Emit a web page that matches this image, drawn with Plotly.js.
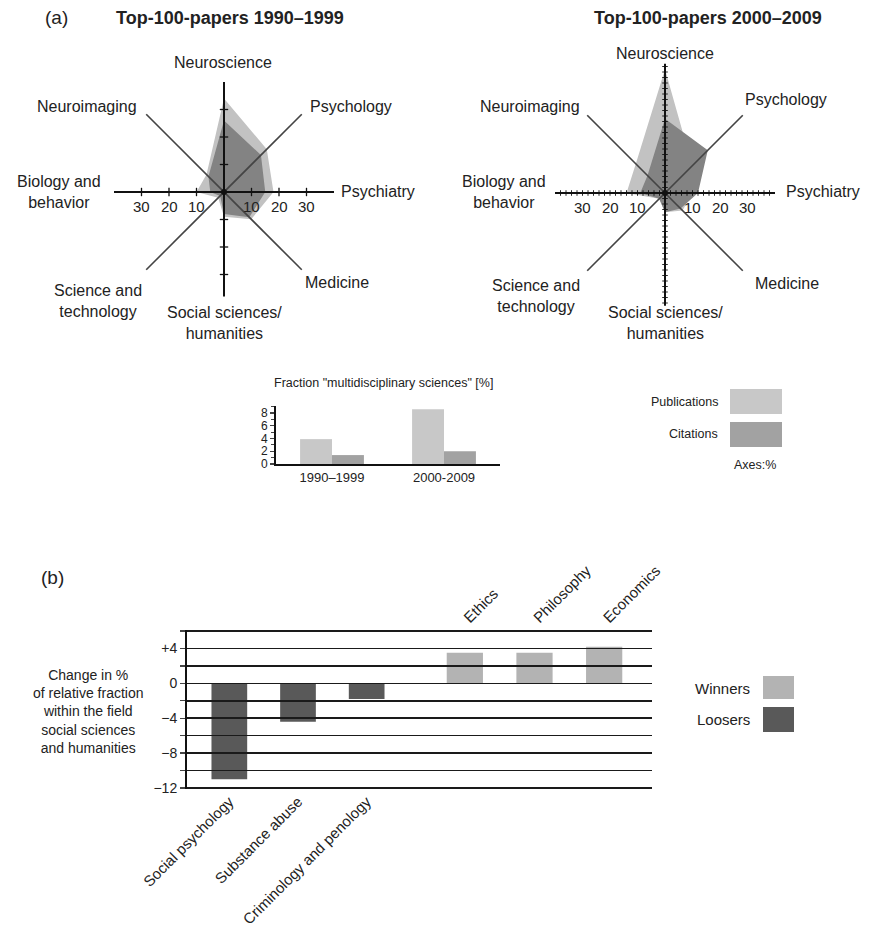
<!DOCTYPE html>
<html><head><meta charset="utf-8">
<script src="https://cdn.plot.ly/plotly-3.0.1.min.js"></script>
<style>body{margin:0;background:#fff}#chart{width:872px;height:940px}</style>
</head><body><div id="chart"></div>
<script>
// ---------- DATA ----------
// Radar axes, clockwise from top
const radarCategories = ["Neuroscience","Psychology","Psychiatry","Medicine","Social sciences/<br>humanities","Science and<br>technology","Biology and<br>behavior","Neuroimaging"];
const radarAngles = [0,45,90,135,180,225,270,315];
const pubs1990 = [34, 22, 18, 14, 9, 3, 10, 9];
const cits1990 = [26, 19, 15, 13, 8, 2, 5, 8];
const pubs2000 = [45, 14, 10, 9, 7, 3, 14, 15];
const cits2000 = [27, 22, 12, 8, 7, 3, 9, 9];
const radarTickVals = [10, 20, 30];
const radarTickText = ["10", "20", "30"];
const spokeLen1990 = [40, 40, 40, 40, 38, 40, 40, 40];
const spokeLen2000 = [47, 40, 40, 40, 41, 40, 40, 40];

// Fraction "multidisciplinary sciences"
const multiPeriods = ["1990–1999", "2000-2009"];
const multiPubs = [3.9, 8.6];
const multiCits = [1.4, 2.0];

// (b) change in relative fraction
const loserFields = ["Social psychology", "Substance abuse", "Criminology and penology"];
const loserChange = [-11.0, -4.4, -1.8];
const winnerFields = ["Ethics", "Philosophy", "Economics"];
const winnerChange = [3.5, 3.5, 4.2];
const bTickVals = [-12, -8, -4, 0, 4];
const bTickText = ["−12", "−8", "−4", "0", "+4"];
const bMinorVals = [-10, -6, -2, 2, 6];

// ---------- HELPERS ----------
const W = 872, H = 940;
const px = x => x / W;
const py = y => 1 - y / H;
const FONT = "Liberation Sans, Arial, sans-serif";
const TXT = "#222";
const LIGHT = "#c2c2c2", DARK = "#838383";
const R = 48, PXU = 2.75; // radial units range and px per unit
const C1 = [224, 192], C2 = [665, 193];

function polarDomain(c) {
  const rad = R * PXU;
  return {x: [px(c[0] - rad), px(c[0] + rad)], y: [py(c[1] + rad), py(c[1] - rad)]};
}
function fillTrace(vals, sub, color) {
  return {type: "scatterpolar", subplot: sub, r: vals.concat([vals[0]]), theta: radarAngles.concat([radarAngles[0]]),
    mode: "lines", fill: "toself", fillcolor: color, line: {color: "rgba(0,0,0,0)", width: 0},
    hoverinfo: "skip", showlegend: false};
}
function spokeTrace(lengths, idxs, sub, width, color) {
  const r = [], th = [];
  idxs.forEach(i => { r.push(lengths[i], lengths[i + 4], null); th.push(radarAngles[i], radarAngles[i + 4], null); });
  return {type: "scatterpolar", subplot: sub, r, theta: th, mode: "lines", line: {color, width},
    hoverinfo: "skip", showlegend: false};
}
function tickTrace(sub, step, lengths, size, lw) {
  const r = [], th = [], sym = [];
  [0, 2, 4, 6].forEach(i => {
    for (let v = step; v < lengths[i] - 0.5; v += step) {
      r.push(v); th.push(radarAngles[i]);
      sym.push(i % 4 === 0 ? "line-ew" : "line-ns");
    }
  });
  return {type: "scatterpolar", subplot: sub, r, theta: th, mode: "markers",
    marker: {symbol: sym, size, line: {color: "#111", width: lw}}, hoverinfo: "skip", showlegend: false};
}
function centerDot(sub) {
  return {type: "scatterpolar", subplot: sub, r: [0], theta: [0], mode: "markers",
    marker: {size: 6, color: "#111"}, hoverinfo: "skip", showlegend: false};
}
function ann(text, x, y, size, extra) {
  return Object.assign({text, x: px(x), y: py(y), xref: "paper", yref: "paper", showarrow: false,
    xanchor: "center", yanchor: "middle", font: {size, color: TXT, family: FONT}}, extra || {});
}

// ---------- TRACES ----------
const traces = [
  fillTrace(pubs1990, "polar", LIGHT),
  fillTrace(cits1990, "polar", DARK),
  spokeTrace(spokeLen1990, [1, 3], "polar", 1.6, "#444"),
  spokeTrace(spokeLen1990, [0, 2], "polar", 2, "#111"),
  tickTrace("polar", 10, spokeLen1990, 6, 1.3),
  centerDot("polar"),

  fillTrace(pubs2000, "polar2", LIGHT),
  fillTrace(cits2000, "polar2", DARK),
  spokeTrace(spokeLen2000, [1, 3], "polar2", 1.6, "#444"),
  spokeTrace(spokeLen2000, [0, 2], "polar2", 2, "#111"),
  tickTrace("polar2", 2, spokeLen2000, 4, 0.9),
  centerDot("polar2"),

  {type: "bar", x: multiPeriods, y: multiPubs, xaxis: "x4", yaxis: "y4", marker: {color: "#c8c8c8"}, name: "Publications", hoverinfo: "skip"},
  {type: "bar", x: multiPeriods, y: multiCits, xaxis: "x4", yaxis: "y4", marker: {color: "#a2a2a2"}, name: "Citations", hoverinfo: "skip"},

  {type: "scatter", x: [], y: [], xaxis: "x3", yaxis: "y", hoverinfo: "skip", showlegend: false},
  {type: "bar", x: loserFields, y: loserChange, xaxis: "x", yaxis: "y", width: 0.52, marker: {color: "#595959"}, name: "Loosers", hoverinfo: "skip"},
  {type: "bar", x: winnerFields, y: winnerChange, xaxis: "x2", yaxis: "y", width: 0.52, marker: {color: "#b3b3b3"}, name: "Winners", hoverinfo: "skip"}
];

// ---------- LAYOUT ----------
const labelPos1990 = [[223, 62], [351, 106], [378, 192], [337, 282], [224, 323], [98, 301], [59, 192], [87, 106]];
const labelPos2000 = [[665, 53], [786, 99], [823, 192], [787, 283], [665, 323], [536, 296], [504, 192], [530, 106]];

const annotations = [
  ann("(a)", 56, 18, 19),
  ann("<b>Top-100-papers 1990–1999</b>", 230, 18, 18),
  ann("<b>Top-100-papers 2000–2009</b>", 708, 18, 18),
  ann("(b)", 52, 577, 19),
  ann("Fraction \"multidisciplinary sciences\" [%]", 383, 383, 12.5),
  ann("Publications", 720, 402, 12.5, {xanchor: "right"}),
  ann("Citations", 720, 434, 12.5, {xanchor: "right"}),
  ann("Axes:%", 755, 465, 12.5),
  ann("Winners", 752, 688, 15, {xanchor: "right"}),
  ann("Loosers", 752, 719, 15, {xanchor: "right"}),
  ann("Change in %<br>of relative fraction<br>within the field<br>social sciences<br>and humanities", 88, 711, 14)
];
radarCategories.forEach((c, i) => {
  annotations.push(ann(c, labelPos1990[i][0], labelPos1990[i][1], 16));
  annotations.push(ann(c, labelPos2000[i][0], labelPos2000[i][1], 16));
});
// radial tick labels along the horizontal axis (both sides)
[C1, C2].forEach(c => {
  radarTickVals.forEach((v, k) => {
    annotations.push(ann(radarTickText[k], c[0] + v * PXU, c[1] + 14, 15));
    annotations.push(ann(radarTickText[k], c[0] - v * PXU, c[1] + 14, 15));
  });
});

const shapes = [
  {type: "rect", xref: "paper", yref: "paper", x0: px(730), x1: px(782), y0: py(414), y1: py(389), fillcolor: "#c8c8c8", line: {width: 0}},
  {type: "rect", xref: "paper", yref: "paper", x0: px(730), x1: px(782), y0: py(447), y1: py(422), fillcolor: "#a2a2a2", line: {width: 0}},
  {type: "rect", xref: "paper", yref: "paper", x0: px(763), x1: px(794), y0: py(699), y1: py(676), fillcolor: "#b3b3b3", line: {width: 0}},
  {type: "rect", xref: "paper", yref: "paper", x0: px(763), x1: px(794), y0: py(732), y1: py(707), fillcolor: "#595959", line: {width: 0}}
];

const polarCommon = () => ({
  bgcolor: "rgba(0,0,0,0)",
  radialaxis: {visible: false, range: [0, R]},
  angularaxis: {visible: false, rotation: 90, direction: "clockwise"}
});

const gridCol = "#1a1a1a";
const layout = {
  width: W, height: H, margin: {l: 0, r: 0, t: 0, b: 0},
  paper_bgcolor: "#fff", plot_bgcolor: "rgba(0,0,0,0)",
  showlegend: false, font: {family: FONT, color: TXT},
  polar: Object.assign({domain: polarDomain(C1)}, polarCommon()),
  polar2: Object.assign({domain: polarDomain(C2)}, polarCommon()),
  barmode: "group", bargap: 0.43, bargroupgap: 0,

  xaxis4: {domain: [px(276), px(500)], anchor: "y4", showline: true, linewidth: 2, linecolor: "#111",
    ticks: "", tickfont: {size: 13}, showgrid: false, zeroline: false, fixedrange: true},
  yaxis4: {domain: [py(464), py(406)], anchor: "x4", range: [0, 9.1], tickvals: [0, 2, 4, 6, 8],
    ticks: "outside", ticklen: 4, tickwidth: 1.2, showline: true, linewidth: 2, linecolor: "#111",
    showgrid: false, zeroline: false, tickfont: {size: 12},
    minor: {dtick: 1, ticks: "outside", ticklen: 3, tickwidth: 1}},

  xaxis: {domain: [px(195), px(401)], anchor: "y", side: "bottom", tickangle: -45, ticks: "",
    showline: false, showgrid: false, zeroline: false, tickfont: {size: 15}},
  xaxis2: {domain: [px(430), px(639)], anchor: "y", side: "top", tickangle: -45, ticks: "",
    showline: false, showgrid: false, zeroline: false, tickfont: {size: 15}},
  xaxis3: {domain: [px(187), px(652)], anchor: "y", range: [0, 1], showticklabels: false, ticks: "",
    showline: false, showgrid: false, zeroline: false},
  yaxis: {domain: [py(789.05), py(629.95)], anchor: "x3", range: [-12.12, 6.12],
    tickvals: bTickVals, ticktext: bTickText, ticks: "outside", ticklen: 5, tickwidth: 1.3,
    showline: true, linewidth: 2, linecolor: "#111", showgrid: true, gridcolor: gridCol, gridwidth: 1.5,
    zeroline: false, tickfont: {size: 14},
    minor: {tickvals: bMinorVals, ticks: "outside", ticklen: 5, tickwidth: 1.3, showgrid: true, gridcolor: gridCol, gridwidth: 1.5}},

  annotations, shapes
};

Plotly.newPlot("chart", traces, layout, {displayModeBar: false, staticPlot: true});
</script>
</body></html>
